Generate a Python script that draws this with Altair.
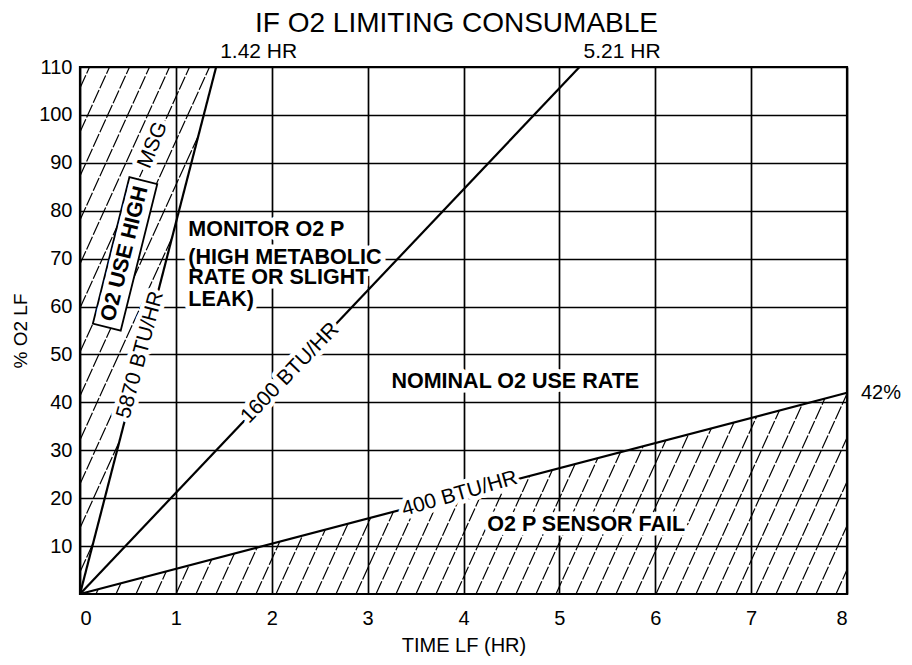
import altair as alt
import numpy as np
import pandas as pd

# ---------------- data ----------------
chart_title = "IF O2 LIMITING CONSUMABLE"
x_ticks = [0, 1, 2, 3, 4, 5, 6, 7, 8]
y_ticks = [10, 20, 30, 40, 50, 60, 70, 80, 90, 100, 110]

# rate lines from origin: end points (hr, % O2)
rate_names = ["5870 BTU/HR", "1600 BTU/HR", "400 BTU/HR"]
rate_end_x = [1.42, 5.21, 8.0]
rate_end_y = [110, 110, 42]

# rotated labels on / near the lines
rot_text = ["5870 BTU/HR", "1600 BTU/HR", "400 BTU/HR", "MSG"]
rot_x = [0.63, 2.19, 3.96, 0.76]
rot_y = [49.9, 46.1, 20.9, 93.7]
rot_angle = [285, 314, 344, 292]

# bold region labels (centered)
bold_text = ["NOMINAL O2 USE RATE", "O2 P SENSOR FAIL", "O2 USE HIGH"]
bold_x = [4.54, 5.28, 0.47]
bold_y = [44.3, 14.4, 71.0]
bold_angle = [0, 0, 284]

# monitor block (left aligned, bold)
mon_text = ["MONITOR O2 P", "(HIGH METABOLIC", "RATE OR SLIGHT", "LEAK)"]
mon_x = [1.13, 1.13, 1.13, 1.13]
mon_y = [76.0, 70.1, 66.0, 61.4]

# end labels
end_text = ["1.42 HR", "5.21 HR"]
end_x = [1.42, 5.21]
end_y = [110, 110]
pct_text = ["42%"]
pct_x = [8.0]
pct_y = [42]

# ---------------- layout / style ----------------
W, H = 767, 527
XMAX, YMAX = 8, 110
FONT = "Liberation Sans, Arial, Helvetica, sans-serif"
px_x = W / XMAX
px_y = H / YMAX
HATCH_SLOPE_PX = 2.2
HATCH_GAP_PX = 20
k = HATCH_SLOPE_PX * px_x / px_y
gap = HATCH_GAP_PX / px_x

# hatch segments derived from the region boundaries (the rate lines)
hx0, hy0, hx1, hy1 = [], [], [], []
# lower region: under the 400 BTU/HR line
m_low = rate_end_y[2] / rate_end_x[2]
for c in np.arange(gap * 0.8, rate_end_x[2], gap):
    x1 = k * c / (k - m_low)
    y1 = m_low * x1
    if x1 > rate_end_x[2]:
        x1 = rate_end_x[2]
        y1 = k * (x1 - c)
    hx0.append(c); hy0.append(0.0); hx1.append(x1); hy1.append(y1)
# left region: left of the 5870 BTU/HR line
m_hi = rate_end_y[0] / rate_end_x[0]
for c in np.arange(-gap * 0.5, -YMAX / k, -gap):
    y0 = -k * c
    x1 = k * c / (k - m_hi)
    y1 = m_hi * x1
    if y1 > YMAX:
        y1 = YMAX
        x1 = c + YMAX / k
    hx0.append(0.0); hy0.append(y0); hx1.append(x1); hy1.append(y1)

hatch_df = pd.DataFrame({"x": hx0, "y": hy0, "x1": hx1, "y1": hy1})
rate_df = pd.DataFrame({"name": rate_names, "x": [0.0] * 3, "y": [0.0] * 3,
                        "x1": rate_end_x, "y1": rate_end_y})
rot_df = pd.DataFrame({"t": rot_text, "x": rot_x, "y": rot_y, "a": rot_angle})
bold_df = pd.DataFrame({"t": bold_text, "x": bold_x, "y": bold_y, "a": bold_angle})
mon_df = pd.DataFrame({"t": mon_text, "x": mon_x, "y": mon_y})
end_df = pd.DataFrame({"t": end_text, "x": end_x, "y": end_y})
pct_df = pd.DataFrame({"t": pct_text, "x": pct_x, "y": pct_y})
box_df = pd.DataFrame({"x": [bold_x[2]], "y": [bold_y[2]], "a": [bold_angle[2]]})

xs = alt.Scale(domain=[0, XMAX], nice=False, zero=False)
ys = alt.Scale(domain=[0, YMAX], nice=False, zero=False)

x_axis = alt.Axis(values=x_ticks, title="TIME LF (HR)", grid=True, gridColor="black",
                  gridWidth=1.7, gridOpacity=1, domain=False, ticks=False,
                  labelFontSize=20, labelPadding=14, labelColor="black",
                  titleFontSize=20, titleFontWeight="normal", titleColor="black",
                  titlePadding=7, labelFont=FONT, titleFont=FONT, format="d")
y_axis = alt.Axis(values=y_ticks, title="% O2 LF", grid=True, gridColor="black",
                  gridWidth=1.7, gridOpacity=1, domain=False, ticks=False,
                  labelFontSize=20, labelPadding=8, labelColor="black",
                  titleFontSize=19, titleFontWeight="normal", titleColor="black",
                  titlePadding=8, labelFont=FONT, titleFont=FONT, format="d")


def X():
    return alt.X("x:Q", scale=xs, axis=x_axis)


def Y():
    return alt.Y("y:Q", scale=ys, axis=y_axis)


hatch = alt.Chart(hatch_df).mark_rule(color="black", strokeWidth=1.2,
                                       strokeDash=[14, 2]).encode(
    x=X(), y=Y(), x2="x1:Q", y2="y1:Q")

rates = alt.Chart(rate_df).mark_rule(color="black", strokeWidth=2.2).encode(
    x=X(), y=Y(), x2="x1:Q", y2="y1:Q")

box_path = "M-1,-0.19L1,-0.19L1,0.19L-1,0.19Z"
box = alt.Chart(box_df).mark_point(shape=box_path, size=151 * 151, filled=True,
                                   fill="white", stroke="black", strokeWidth=1.8,
                                   opacity=1).encode(
    x=X(), y=Y(), angle=alt.Angle("a:Q", scale=None))


def text_layer(df, halo, bold, align="center", size=21, angle=True, dx=0, dy=0):
    kw = dict(font=FONT, fontSize=size, fontWeight="bold" if bold else "normal",
              align=align, baseline="middle", dx=dx, dy=dy)
    if halo:
        kw.update(color="white", stroke="white", strokeWidth=9, strokeJoin="round")
    else:
        kw.update(color="black")
    enc = dict(x=X(), y=Y(), text="t:N")
    if angle:
        enc["angle"] = alt.Angle("a:Q", scale=None)
    return alt.Chart(df).mark_text(**kw).encode(**enc)


BOLD = 21.5
layers = [hatch, rates, box,
          text_layer(rot_df, True, False), text_layer(bold_df, True, True, size=BOLD),
          text_layer(mon_df, True, True, align="left", angle=False, size=BOLD),
          text_layer(rot_df, False, False), text_layer(bold_df, False, True, size=BOLD),
          text_layer(mon_df, False, True, align="left", angle=False, size=BOLD),
          text_layer(end_df, False, False, align="left", angle=False, dx=4, dy=-15),
          text_layer(pct_df, False, False, align="left", angle=False, size=20, dx=14)]

chart = alt.layer(*layers).properties(
    width=W, height=H,
    autosize=alt.AutoSizeParams(type="none"),
    padding={"left": 72, "top": 59, "right": 57, "bottom": 63},
    background="white",
    title=alt.TitleParams(chart_title, fontSize=28, fontWeight="normal", font=FONT,
                          color="black", anchor="middle", offset=3, dx=-7),
).configure_view(stroke="black", strokeWidth=2.2)

chart.save("out.html", embed_options={"renderer": "svg", "actions": False})
